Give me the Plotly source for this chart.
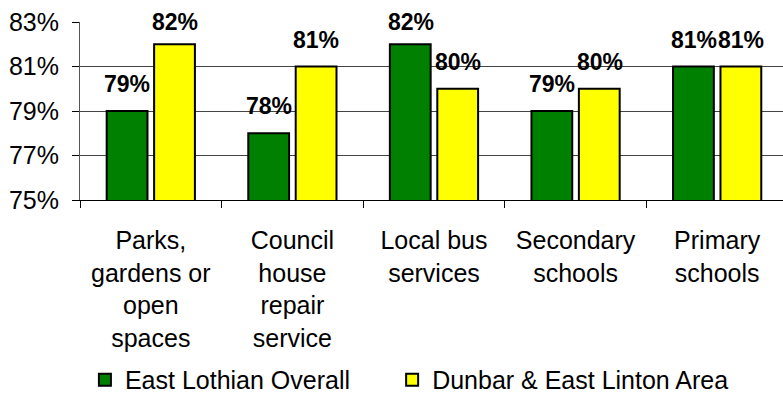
import plotly.graph_objects as go

# ---------------- data ----------------
categories = ["Parks,<br>gardens or<br>open<br>spaces",
              "Council<br>house<br>repair<br>service",
              "Local bus<br>services",
              "Secondary<br>schools",
              "Primary<br>schools"]
east_lothian = [79, 78, 82, 79, 81]
dunbar_area = [82, 81, 80, 80, 81]
series_names = ["East Lothian Overall", "Dunbar & East Linton Area"]
y_ticks = [75, 77, 79, 81, 83]

FONT = "Arial, Liberation Sans, sans-serif"

fig = go.Figure()
fig.add_trace(go.Bar(x=categories, y=east_lothian, name=series_names[0], legend="legend",
                     marker=dict(color="#008000", line=dict(color="#000000", width=2))))
fig.add_trace(go.Bar(x=categories, y=dunbar_area, name=series_names[1], legend="legend2",
                     marker=dict(color="#FFFF00", line=dict(color="#000000", width=2))))

# value labels above bars (Excel style, lifted a bit)
ppu = 178 / 8.0
for vals, off in [(east_lothian, -0.165), (dunbar_area, 0.17)]:
    for i, v in enumerate(vals):
        fig.add_annotation(x=i + off, y=v, xref="x", yref="y", text=f"{v}%",
                           showarrow=False, yanchor="middle",
                           yshift=min(27, (83 - v) * ppu),
                           font=dict(family=FONT, size=23, color="#000000", weight="bold"))

leg_font = dict(family=FONT, size=25, color="#000000")
fig.update_layout(
    width=783, height=403,
    margin=dict(l=80, r=0, t=22, b=203, autoexpand=False),
    paper_bgcolor="white", plot_bgcolor="white",
    barmode="group", bargap=0.33, bargroupgap=0.14,
    font=dict(family=FONT, size=25, color="#000000"),
    showlegend=True,
    legend=dict(orientation="h", x=0.007, y=-1.011, xanchor="left", yanchor="middle",
                font=leg_font, bgcolor="rgba(0,0,0,0)"),
    legend2=dict(orientation="h", x=0.444, y=-1.011, xanchor="left", yanchor="middle",
                 font=leg_font, bgcolor="rgba(0,0,0,0)"),
)
fig.update_xaxes(range=[-0.5, 4.465], showline=True, linecolor="#000000", linewidth=1,
                 ticks="outside", ticklen=7, tickcolor="#000000", tickson="boundaries",
                 showgrid=False, tickfont=dict(size=25), automargin=False,
                 ticklabelstandoff=18)
fig.update_yaxes(range=[75, 83], tickvals=y_ticks, ticktext=[f"{t}%" for t in y_ticks],
                 showline=True, linecolor="#555555", linewidth=1,
                 ticks="outside", ticklen=7, tickcolor="#000000",
                 showgrid=True, gridcolor="#444444", gridwidth=1, zeroline=False,
                 ticklabelstandoff=8, tickfont=dict(size=25), automargin=False)

# drop the default body margin so the figure sits at the page corner
fig.write_html("out.html", config={"displayModeBar": False},
               post_script="document.body.style.margin='0';")
